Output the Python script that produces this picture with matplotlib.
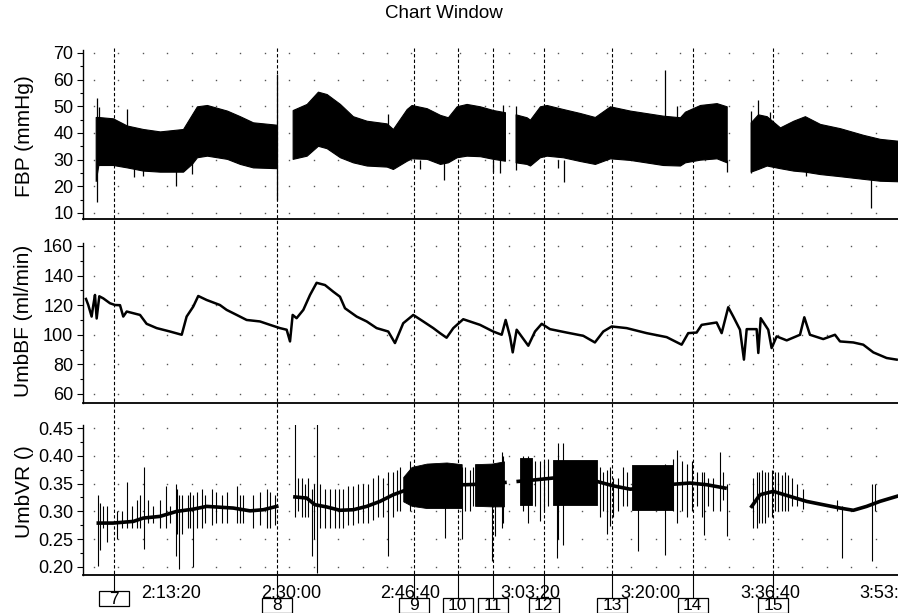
import numpy as np
import matplotlib
matplotlib.use("Agg")
import matplotlib.pyplot as plt
from matplotlib.transforms import blended_transform_factory
from matplotlib.patches import Rectangle
from matplotlib.lines import Line2D

plt.rcParams['font.family'] = ['Liberation Sans', 'DejaVu Sans']

nan = np.nan

# ---------------- data (time in seconds of clock time, 2:13:20 = 8000 s) -------------
time_ticks = [8000, 9000, 10000, 11000, 12000, 13000, 14000]
time_labels = ["2:13:20", "2:30:00", "2:46:40", "3:03:20", "3:20:00", "3:36:40", "3:53:20"]

comment_times = [7528, 8889, 10028, 10393, 10690, 11111, 11684, 12355, 13027]
comment_ids = ["7", "8", "9", "10", "11", "12", "13", "14", "15"]

# FBP: envelope of the pulsatile pressure (upper/lower), gaps as nan
fbp_t = [7372, 7394, 7516, 7633, 7767, 7908, 8101, 8176, 8217, 8301, 8468, 8576, 8685, 8885, nan,
         9016, 9133, 9227, 9300, 9411, 9519, 9634, 9801, 9853, 9968, 10009, 10135, 10246, 10312,
         10385, 10468, 10580, 10690, 10788, nan,
         10877, 10969, 10997, 11080, 11136, 11272, 11414, 11539, 11665, 11832, 12107, 12249, 12291,
         12416, 12555, 12639, nan,
         12839, 12900, 12973, 13084, 13195, 13292, 13418, 13585, 13779, 13918, 14069]
fbp_hi = [46, 46, 45.5, 42.8, 41.5, 40.6, 41.5, 47, 50, 50.5, 48.4, 46.3, 44, 43.1, nan,
          48.6, 50.9, 55.5, 54.6, 50.9, 46.3, 44.6, 43.6, 41.5, 49, 50.5, 49.3, 46.8, 45.9,
          50, 50.9, 50, 48.6, 47.8, nan,
          47, 45.9, 45, 50, 50.5, 49, 47.5, 46, 50, 48.4, 46.5, 45.9, 48, 50.5, 51.2, 50, nan,
          44, 47, 46.3, 42.1, 44.6, 46.3, 43.4, 41.8, 39.3, 37.8, 37.1]
fbp_lo = [22, 28, 28, 27.1, 25.9, 25.5, 25.5, 28.5, 30.9, 31.5, 30.3, 28.4, 27.1, 26.8, nan,
          30.3, 31.5, 35.2, 34.3, 30.9, 29, 27.8, 27.4, 26.5, 29.6, 30.5, 30.3, 28.4, 29,
          30.9, 31.5, 31.3, 30.3, 29.6, nan,
          29, 28.4, 27.8, 30.9, 31.5, 30.9, 29.5, 28.4, 30.5, 29.9, 28, 27.8, 29, 30, 30.5, 29, nan,
          25.5, 26.5, 27.8, 26.8, 25.9, 25.5, 24.6, 23.8, 22.8, 22.1, 21.9]
# FBP artefact spikes
fbp_sp_t = [7380, 7402, 7633, 7692, 7767, 8042, 8176, 8885, 9812, 10079, 10279, 10690, 10747,
            10772, 10877, 11228, 11281, 12126, 12224, 12639, 12839, 12900, 13000, 13301, 13843]
fbp_sp_lo = [14, 28, 40, 23.5, 24, 20, 24.5, 15, 30, 26.5, 22.5, 25.5, 25, 40, 26, 27, 21.5,
             40, 40, 25.2, 25, 40, 40, 24, 11.8]
fbp_sp_hi = [53, 49.6, 49, 30, 30, 28, 30, 62, 47, 30, 30, 30, 30, 50.5, 50, 30, 30, 63.8, 50,
             30, 48.4, 52.5, 48, 28, 25]

# UmbBF
bf_t = [7291, 7310, 7338, 7352, 7366, 7380, 7402, 7435, 7491, 7533, 7575, 7602, 7631, 7742, 7797,
        7881, 7992, 8090, 8131, 8186, 8228, 8298, 8409, 8465, 8549, 8632, 8743, 8827, 8910, 8966,
        8994, 9016, 9049, 9105, 9161, 9216, 9286, 9355, 9411, 9453, 9550, 9634, 9717, 9814, 9870,
        9939, 10023, 10106, 10190, 10246, 10301, 10357, 10440, 10580, 10690, 10761, 10794, 10830,
        10853, 10886, 10983, 11039, 11095, 11164, 11303, 11442, 11539, 11609, 11679, 11804, 11971,
        12138, 12263, 12318, 12388, 12430, 12555, 12597, 12652, 12694, 12750, 12783, 12806, 12889,
        12903, 12923, 12986, 13014, 13056, 13140, 13251, 13287, 13334, 13445, 13543, 13585, 13696,
        13779, 13863, 13974, 14058]
bf_v = [124.2, 120.1, 112.3, 120, 126.9, 111, 126, 124.6, 121.3, 120.1, 120, 112.3, 115.7, 113.4,
        107.4, 104.5, 102.2, 100, 112.3, 119, 126.2, 123.5, 120.1, 116.8, 113.4, 110, 109, 106.7,
        104.5, 103.4, 95.5, 113.4, 111.2, 116.8, 126.9, 135.1, 133.6, 129.1, 125.7, 117.9, 112.3,
        109, 104.5, 102.2, 94.4, 107.8, 113.4, 109, 104.5, 101.1, 98, 104.5, 110.5, 106.7, 102.2,
        100, 110, 98.9, 88.1, 103.4, 92.6, 102.2, 107.4, 103.8, 101.5, 99.3, 94.8, 102.2, 105.6,
        104.5, 101.1, 98.4, 93.3, 101.1, 101.5, 106.7, 108.3, 101.1, 118.6, 112.3, 103.4, 83.2,
        103.8, 103.8, 87.7, 111.2, 103.4, 91, 98.9, 96.2, 100, 111.8, 100, 97.1, 100, 95.5, 94.8,
        93.3, 88.1, 84.3, 83.2]

# UmbVR baseline
vr_t = [7394, 7516, 7686, 7769, 7908, 8048, 8186, 8298, 8520, 8660, 8771, 8883, nan,
        9035, 9133, 9202, 9300, 9411, 9522, 9634, 9745, 9856, 9968, 10079, 10246, 10468, 10690, 10788, nan,
        10899, 11053, 11191, 11358, 11554, 11692, 11832, 11971, 12138, 12332, 12472, 12625, nan,
        12848, 12917, 13028, 13167, 13306, 13445, 13585, 13696, 13807, 13918, 14058]
vr_v = [0.279, 0.279, 0.282, 0.288, 0.291, 0.300, 0.304, 0.309, 0.306, 0.301, 0.303, 0.309, nan,
        0.326, 0.324, 0.312, 0.308, 0.302, 0.303, 0.309, 0.318, 0.330, 0.339, 0.344, 0.348, 0.348, 0.350, 0.352, nan,
        0.354, 0.357, 0.360, 0.357, 0.354, 0.346, 0.340, 0.342, 0.348, 0.351, 0.348, 0.342, nan,
        0.309, 0.330, 0.336, 0.327, 0.318, 0.312, 0.306, 0.302, 0.309, 0.318, 0.327]
# UmbVR dense oscillation bands
vr_band_t = [9939, 10009, 10135, 10301, 10427, nan, 10538, 10677, 10780, nan, 10913, 11014, nan,
             11189, 11556, nan, 11848, 12190]
vr_band_lo = [0.318, 0.310, 0.306, 0.306, 0.306, nan, 0.310, 0.309, 0.309, nan, 0.312, 0.312, nan,
              0.312, 0.312, nan, 0.303, 0.303]
vr_band_hi = [0.362, 0.380, 0.386, 0.388, 0.385, nan, 0.385, 0.386, 0.390, nan, 0.396, 0.396, nan,
              0.393, 0.393, nan, 0.384, 0.384]
# UmbVR individual spikes
vr_sp_t = [7394, 7408, 7435, 7464, 7547, 7589, 7631, 7672, 7714, 7742, 7775, 7811, 7853, 7908, 7959,
           7992, 8040, 8053, 8070, 8090, 8145, 8159, 8181, 8215, 8257, 8284, 8340, 8376, 8424, 8465,
           8549, 8576, 8604, 8687, 8743, 8799, 8827, 8868,
           9035, 9063, 9091, 9119, 9146, 9175, 9194, 9216, 9244, 9286, 9328, 9369, 9405, 9439, 9480,
           9522, 9564, 9605, 9647, 9689, 9731, 9772, 9814, 9856, 9884, 9912, 9995, 10287, 10427,
           10454, 10496, 10524, 10677, 10705, 10761, 10774,
           10941, 10983, 11039, 11080, 11114, 11150, 11220, 11233, 11275, 11581, 11609, 11637, 11665,
           11692, 11734, 11776, 11804, 11901, 12124, 12193, 12226, 12263, 12305, 12347, 12388, 12430,
           12452, 12485, 12527, 12583, 12605, 12639,
           12861, 12889, 12911, 12931, 12958, 12986, 13014, 13042, 13070, 13098, 13125, 13153, 13181,
           13223, 13278, 13557, 13599, 13849, 13877]
vr_sp_lo = [0.202, 0.230, 0.270, 0.245, 0.250, 0.270, 0.270, 0.270, 0.270, 0.270, 0.232, 0.280, 0.280,
            0.270, 0.270, 0.280, 0.220, 0.260, 0.196, 0.260, 0.270, 0.270, 0.200, 0.270, 0.270, 0.280,
            0.275, 0.280, 0.280, 0.280, 0.280, 0.280, 0.280, 0.270, 0.275, 0.270, 0.270, 0.275,
            0.290, 0.300, 0.290, 0.290, 0.290, 0.219, 0.250, 0.190, 0.270, 0.270, 0.270, 0.270, 0.270,
            0.270, 0.275, 0.275, 0.280, 0.280, 0.280, 0.285, 0.290, 0.290, 0.219, 0.290, 0.300, 0.300,
            0.300, 0.252, 0.250, 0.300, 0.300, 0.310, 0.210, 0.255, 0.270, 0.280,
            0.300, 0.280, 0.310, 0.282, 0.300, 0.310, 0.216, 0.250, 0.240, 0.290, 0.300, 0.260, 0.273,
            0.290, 0.300, 0.310, 0.310, 0.228, 0.222, 0.300, 0.280, 0.300, 0.290, 0.300, 0.310, 0.290,
            0.258, 0.310, 0.300, 0.300, 0.320, 0.255,
            0.270, 0.270, 0.280, 0.280, 0.280, 0.290, 0.290, 0.300, 0.300, 0.300, 0.300, 0.300, 0.310,
            0.310, 0.305, 0.300, 0.216, 0.210, 0.300]
vr_sp_hi = [0.330, 0.315, 0.310, 0.310, 0.300, 0.300, 0.352, 0.310, 0.320, 0.330, 0.380, 0.320, 0.310,
            0.320, 0.345, 0.310, 0.350, 0.340, 0.330, 0.330, 0.330, 0.335, 0.330, 0.335, 0.340, 0.330,
            0.340, 0.335, 0.330, 0.335, 0.345, 0.330, 0.330, 0.330, 0.335, 0.340, 0.335, 0.330,
            0.458, 0.360, 0.360, 0.350, 0.360, 0.340, 0.350, 0.458, 0.350, 0.340, 0.340, 0.340, 0.340,
            0.340, 0.345, 0.345, 0.350, 0.350, 0.350, 0.360, 0.365, 0.360, 0.370, 0.370, 0.375, 0.380,
            0.390, 0.380, 0.380, 0.380, 0.375, 0.380, 0.385, 0.385, 0.406, 0.400,
            0.400, 0.400, 0.390, 0.390, 0.390, 0.395, 0.390, 0.423, 0.423, 0.380, 0.370, 0.375, 0.380,
            0.360, 0.360, 0.380, 0.370, 0.380, 0.385, 0.395, 0.411, 0.390, 0.385, 0.390, 0.370, 0.370,
            0.370, 0.360, 0.360, 0.406, 0.370, 0.350,
            0.360, 0.370, 0.370, 0.375, 0.370, 0.370, 0.375, 0.370, 0.370, 0.365, 0.370, 0.365, 0.360,
            0.350, 0.340, 0.320, 0.310, 0.350, 0.350]

# ---------------- figure ----------------
W, H = 898, 613
fig = plt.figure(figsize=(W / 100, H / 100), dpi=100)


def fy(py):
    return 1 - py / H


left = 83 / W
width = 1 - left
panels = [(50, 219), (243, 403), (425, 575)]
axes = []
for top, bot in panels:
    axes.append(fig.add_axes([left, fy(bot), width, (bot - top) / H]))
ax1, ax2, ax3 = axes

xlim = (7266, 14069)
grid_cols = np.arange(7357, 14000, 203.9)

ylims = [(7.75, 71.12), (53.9, 162.0), (0.1856, 0.4554)]
majors = [np.arange(10, 71, 10), np.arange(60, 161, 20), np.arange(0.20, 0.451, 0.05)]
minors = [np.arange(15, 70, 10), np.arange(70, 160, 20), np.arange(0.225, 0.45, 0.05)]
fmts = ["{:.0f}", "{:.0f}", "{:.2f}"]
ylabels = ["FBP (mmHg)", "UmbBF (ml/min)", "UmbVR ()"]

for ax, yl, mj, mn, fm in zip(axes, ylims, majors, minors, fmts):
    ax.set_xlim(*xlim)
    ax.set_ylim(*yl)
    for s in ("top", "right"):
        ax.spines[s].set_visible(False)
    ax.spines["left"].set_linewidth(1.0)
    ax.spines["bottom"].set_linewidth(1.3)
    ax.set_yticks(mj)
    ax.set_yticklabels([fm.format(v) for v in mj])
    ax.set_yticks(mn, minor=True)
    ax.tick_params(axis="y", which="major", length=4, width=0.8, pad=3, labelsize=13)
    ax.tick_params(axis="y", which="minor", length=2.5, width=0.8)
    ax.set_xticks([])
    ax.patch.set_alpha(0)
    gx, gy = np.meshgrid(grid_cols, mj)
    ax.plot(gx.ravel(), gy.ravel(), linestyle="none", marker="s", markersize=1.0,
            color="#555555", markeredgewidth=0, zorder=1)

# --- FBP ---
def segments(t, *ys):
    t = np.asarray(t, float)
    arrs = [np.asarray(y, float) for y in ys]
    idx = np.where(np.isnan(t))[0]
    starts = np.r_[0, idx + 1]
    ends = np.r_[idx, len(t)]
    for a, b in zip(starts, ends):
        yield (t[a:b],) + tuple(y[a:b] for y in arrs)


for st, hi, lo in segments(fbp_t, fbp_hi, fbp_lo):
    ax1.fill_between(st, lo, hi, color="black", linewidth=0.8, edgecolor="black", zorder=3)
ax1.vlines(fbp_sp_t, fbp_sp_lo, fbp_sp_hi, color="black", linewidth=0.9, zorder=3)

# --- UmbBF ---
ax2.plot(bf_t, bf_v, color="black", linewidth=1.8, zorder=3)

# --- UmbVR ---
for st, lo, hi in segments(vr_band_t, vr_band_lo, vr_band_hi):
    ax3.fill_between(st, lo, hi, color="black", linewidth=0.6, edgecolor="black", zorder=3)
ax3.vlines(vr_sp_t, vr_sp_lo, vr_sp_hi, color="black", linewidth=0.8, zorder=3)
ax3.plot(vr_t, vr_v, color="black", linewidth=2.6, zorder=4)

# x tick labels on the bottom panel
ax3.set_xticks(time_ticks)
ax3.set_xticklabels(time_labels)
ax3.tick_params(axis="x", length=0, pad=7, labelsize=13)

# y labels
label_y = [136, 321, 492]
for txt, py in zip(ylabels, label_y):
    fig.text(24 / W, fy(py), txt, rotation=90, ha="center", va="center", fontsize=15)

# title
fig.text(444 / W, fy(14), "Chart Window", ha="center", va="center", fontsize=13.5)

# comment markers
tr = blended_transform_factory(ax3.transData, fig.transFigure)
for i, (ct, cid) in enumerate(zip(comment_times, comment_ids)):
    box_top = 591 if i == 0 else 598
    # dashed through all panels
    fig.add_artist(Line2D([ct, ct], [fy(48), fy(575)], transform=tr, color="black",
                          linewidth=0.8, linestyle=(0, (3, 2)), zorder=5))
    fig.add_artist(Line2D([ct, ct], [fy(575), fy(box_top)], transform=tr, color="black",
                          linewidth=0.8, zorder=5))
    # box of ~30 px width in data units
    half = 15 * (xlim[1] - xlim[0]) / (W - 83)
    fig.add_artist(Rectangle((ct - half, fy(box_top + 15)), 2 * half, 15 / H, transform=tr,
                             facecolor="white", edgecolor="black", linewidth=0.9, zorder=6))
    fig.text(ct, fy(box_top + 8), cid, transform=tr, ha="center", va="center",
             fontsize=12.5, zorder=7)

fig.savefig("out.png", dpi=100)
